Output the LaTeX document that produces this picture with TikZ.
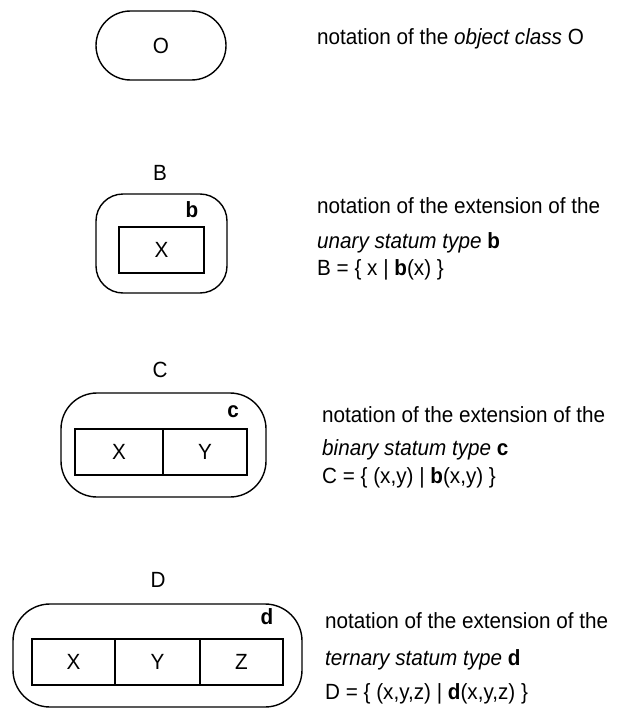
\documentclass[tikz,border=0pt]{standalone}
\usepackage{fontspec}
\setmainfont{Liberation Sans}[FakeStretch=0.94]
\begin{document}
\begin{tikzpicture}[x=1pt,y=-1pt,
  every node/.style={font=\fontsize{22}{26}\selectfont, inner sep=0pt},
  outerbox/.style={draw, line width=1.4pt, rounded corners=#1},
  cell/.style={draw, line width=1.4pt, minimum height=46pt},
  txt/.style={anchor=base west}]
\useasboundingbox (0,0) rectangle (618,709);

% Object class O
\node[outerbox=34.5pt, minimum width=130pt, minimum height=69pt] (O) at (161,45.5) {O};
\node[txt] (t1) at (317,45) {notation of the \textit{object class} O};

% Unary B
\node (Blab) at (160,173) {B};
\node[outerbox=27pt, minimum width=131pt, minimum height=99pt] (Bout) at (161.5,243.5) {};
\node[cell, minimum width=85pt] (Bx) at (161.5,250) {X};
\node (bl) at (192,210) {\textbf{b}};
\node[txt] (t2a) at (317,213) {notation of the extension of the};
\node[txt] (t2b) at (317,248) {\textit{unary statum type} \textbf{b}};
\node[txt] (t2c) at (317,275) {B = \{ x | \textbf{b}(x) \}};

% Binary C
\node (Clab) at (160,370) {C};
\node[outerbox=36pt, minimum width=205pt, minimum height=104pt] (Cout) at (163.5,445) {};
\node[cell, minimum width=88pt] (Cx) at (119,452) {X};
\node[cell, minimum width=84pt] (Cy) at (205,452) {Y};
\node (cl) at (233,412) {\textbf{c}};
\node[txt] (t3a) at (322,422) {notation of the extension of the};
\node[txt] (t3b) at (322,455) {\textit{binary statum type} \textbf{c}};
\node[txt] (t3c) at (322,483) {C = \{ (x,y) | \textbf{b}(x,y) \}};

% Ternary D
\node (Dlab) at (158,580) {D};
\node[outerbox=37pt, minimum width=289pt, minimum height=103pt] (Dout) at (157.5,655.5) {};
\node[cell, minimum width=83pt] (Dx) at (73.5,662) {X};
\node[cell, minimum width=85pt] (Dy) at (157.5,662) {Y};
\node[cell, minimum width=83pt] (Dz) at (241.5,662) {Z};
\node (dl) at (267,617) {\textbf{d}};
\node[txt] (t4a) at (325,628) {notation of the extension of the};
\node[txt] (t4b) at (325,665) {\textit{ternary statum type} \textbf{d}};
\node[txt] (t4c) at (325,699) {D = \{ (x,y,z) | \textbf{d}(x,y,z) \}};
\end{tikzpicture}
\end{document}
